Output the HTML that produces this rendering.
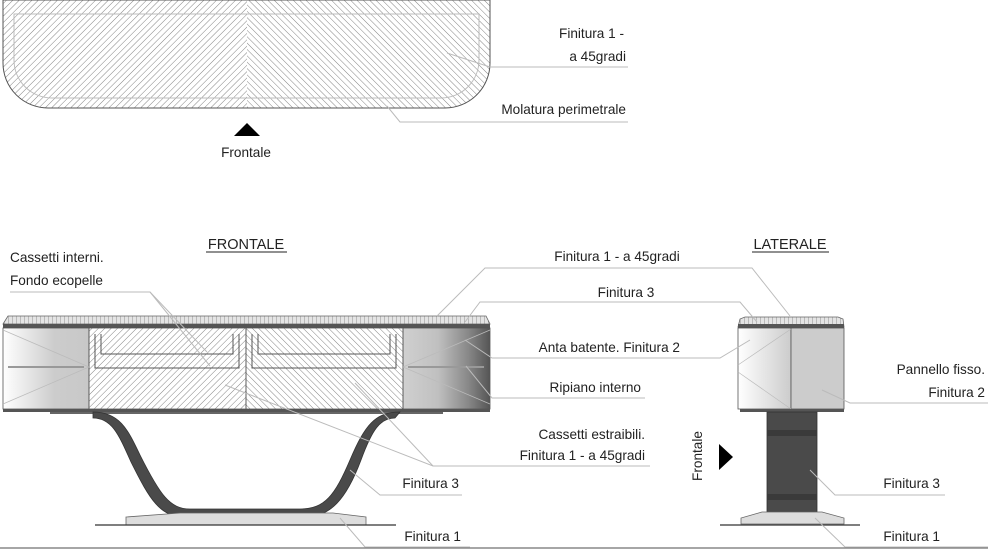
<!DOCTYPE html>
<html><head><meta charset="utf-8"><style>
html,body{margin:0;padding:0;background:#fff}
svg{display:block}
text{font-family:"Liberation Sans",sans-serif;font-size:13.6px;fill:#222}
</style></head><body>
<svg width="988" height="549" viewBox="0 0 988 549" xmlns="http://www.w3.org/2000/svg">
<defs>
<pattern id="hL" width="4.5" height="4.5" patternUnits="userSpaceOnUse" patternTransform="rotate(45)"><line x1="0" y1="0" x2="0" y2="4.5" stroke="#666" stroke-width="0.8"/></pattern>
<pattern id="hR" width="4.5" height="4.5" patternUnits="userSpaceOnUse" patternTransform="rotate(-45)"><line x1="0" y1="0" x2="0" y2="4.5" stroke="#666" stroke-width="0.8"/></pattern>
<pattern id="slab" width="4" height="4" patternUnits="userSpaceOnUse"><rect width="4" height="4" fill="#e4e4e4"/><line x1="0" y1="0" x2="0" y2="4" stroke="#888" stroke-width="0.9"/></pattern>
<linearGradient id="gl" x1="0" x2="1"><stop offset="0" stop-color="#fff"/><stop offset="0.6" stop-color="#ccc"/><stop offset="1" stop-color="#c8c8c8"/></linearGradient>
<linearGradient id="gr" x1="0" x2="1"><stop offset="0" stop-color="#d0d0d0"/><stop offset="0.4" stop-color="#c0c0c0"/><stop offset="0.75" stop-color="#888"/><stop offset="1" stop-color="#555"/></linearGradient>
<linearGradient id="gs" x1="0" x2="1"><stop offset="0" stop-color="#fff"/><stop offset="1" stop-color="#ccc"/></linearGradient>
<clipPath id="topc"><path d="M3 0 H490 V63 A45 45 0 0 1 445 108 H48 A45 45 0 0 1 3 63 Z"/></clipPath>
</defs>

<g clip-path="url(#topc)">
<rect x="0" y="0" width="247" height="110" fill="url(#hL)"/>
<rect x="247" y="0" width="245" height="110" fill="url(#hR)"/>
</g>
<path d="M3 0 H490 V63 A45 45 0 0 1 445 108 H48 A45 45 0 0 1 3 63 Z" fill="none" stroke="#555" stroke-width="1"/>
<path d="M14 14 H479 V60 A38 38 0 0 1 441 98 H52 A38 38 0 0 1 14 60 Z" fill="none" stroke="#bbb" stroke-width="1"/>
<polyline points="447,53 490,67 628,67" fill="none" stroke="#bbb"/>
<polyline points="387,106 400,122 628,122" fill="none" stroke="#bbb"/>
<text x="624" y="38" text-anchor="end">Finitura 1 -</text>
<text x="626" y="61" text-anchor="end">a 45gradi</text>
<text x="626" y="114" text-anchor="end">Molatura perimetrale</text>
<polygon points="247,123 260,136 234,136" fill="#000"/>
<text x="246" y="157" text-anchor="middle">Frontale</text>

<text x="246" y="249" text-anchor="middle" style="font-size:14.5px">FRONTALE</text>
<line x1="206" y1="252" x2="287" y2="252" stroke="#222"/>
<text x="790" y="249" text-anchor="middle" style="font-size:14.5px">LATERALE</text>
<line x1="752" y1="252" x2="829" y2="252" stroke="#222"/>

<path d="M3 324 L8 316 H486 L490 324 Z" fill="url(#slab)" stroke="#666" stroke-width="0.8"/>
<rect x="3" y="324" width="487" height="4" fill="#555"/>
<rect x="3" y="328" width="86" height="81" fill="url(#gl)" stroke="#555" stroke-width="0.8"/>
<rect x="403" y="328" width="87" height="81" fill="url(#gr)" stroke="#555" stroke-width="0.8"/>
<rect x="89" y="328" width="157" height="81" fill="url(#hL)" stroke="#555" stroke-width="0.8"/>
<rect x="246" y="328" width="157" height="81" fill="url(#hR)" stroke="#555" stroke-width="0.8"/>
<polyline points="95,334 95,368 239,368 239,334" fill="none" stroke="#555"/>
<polyline points="101,334 101,354 233,354 233,334" fill="none" stroke="#555"/>
<polyline points="252,334 252,368 396,368 396,334" fill="none" stroke="#555"/>
<polyline points="258,334 258,354 390,354 390,334" fill="none" stroke="#555"/>
<line x1="8" y1="367" x2="84" y2="367" stroke="#999" stroke-width="2"/>
<line x1="408" y1="367" x2="484" y2="367" stroke="#999" stroke-width="2"/>
<line x1="3" y1="330" x2="89" y2="367" stroke="#bbb" stroke-width="0.7"/>
<line x1="3" y1="404" x2="89" y2="367" stroke="#bbb" stroke-width="0.7"/>
<line x1="490" y1="330" x2="403" y2="367" stroke="#bbb" stroke-width="0.7"/>
<line x1="490" y1="404" x2="403" y2="367" stroke="#bbb" stroke-width="0.7"/>
<rect x="3" y="409" width="487" height="3" fill="#555"/>
<rect x="50" y="412" width="393" height="2" fill="#666"/>
<path d="M93 412 C120 412 128 430 140 455 C160 495 170 509 190 509 H300 C325 509 335 495 350 460 C365 425 375 412 400 412 L395 418 C380 418 372 430 361 460 C346 500 330 517 305 517 H185 C160 517 150 500 131 462 C119 435 112 418 93 418 Z" fill="#4a4a4a" stroke="#333" stroke-width="0.8"/>
<path d="M126 525 L126 517 L180 513 H333 L366 517 L366 525 Z" fill="#ddd" stroke="#666" stroke-width="0.8"/>
<line x1="95" y1="525" x2="396" y2="525" stroke="#333" stroke-width="1.3"/>

<path d="M738 327 L740 319 L745 317 H838 L843 319 L844 327 Z" fill="url(#slab)" stroke="#666" stroke-width="0.8"/>
<rect x="738" y="324" width="106" height="4" fill="#555"/>
<rect x="738" y="328" width="53" height="81" fill="url(#gs)" stroke="#555" stroke-width="0.8"/>
<rect x="791" y="328" width="53" height="81" fill="#ccc" stroke="#555" stroke-width="0.8"/>
<line x1="738" y1="365" x2="791" y2="329" stroke="#bbb" stroke-width="0.7"/>
<line x1="738" y1="372" x2="791" y2="409" stroke="#bbb" stroke-width="0.7"/>
<rect x="740" y="409" width="104" height="3" fill="#555"/>
<rect x="767" y="412" width="50" height="100" fill="#4a4a4a" stroke="#333" stroke-width="0.8"/>
<rect x="767" y="430" width="50" height="6" fill="#3a3a3a"/>
<rect x="767" y="494" width="50" height="6" fill="#3a3a3a"/>
<path d="M741 524 L741 518 L762 512 H822 L844 518 L844 524 Z" fill="#ddd" stroke="#666" stroke-width="0.8"/>
<line x1="720" y1="525" x2="860" y2="525" stroke="#333" stroke-width="1.3"/>
<polygon points="719,444 733,457 719,470" fill="#000"/>
<text transform="translate(702,456) rotate(-90)" text-anchor="middle">Frontale</text>

<g fill="none" stroke="#bbb" stroke-width="1">
<polyline points="437,316 485,268 752,268 790,316"/>
<polyline points="465,322 480,302 740,302 757,322"/>
<polyline points="465,340 492,358 720,358 750,340"/>
<polyline points="466,366 492,398 645,398"/>
<polyline points="225,385 433,466 650,466"/>
<line x1="355" y1="383" x2="433" y2="466"/>
<polyline points="350,470 380,495 462,495"/>
<polyline points="340,518 365,547 470,547"/>
<polyline points="10,292 150,292 207,352"/>
<line x1="150" y1="292" x2="210" y2="366"/>
<polyline points="822,390 850,403 988,403"/>
<polyline points="810,470 835,495 945,495"/>
<polyline points="815,518 845,547 988,547"/>
</g>
<line x1="0" y1="548" x2="988" y2="548" stroke="#888" stroke-width="1.5"/>

<text x="617" y="261" text-anchor="middle">Finitura 1 -  a 45gradi</text>
<text x="626" y="297" text-anchor="middle">Finitura 3</text>
<text x="680" y="352" text-anchor="end">Anta batente. Finitura 2</text>
<text x="641" y="392" text-anchor="end">Ripiano interno</text>
<text x="645" y="439" text-anchor="end">Cassetti estraibili.</text>
<text x="645" y="460" text-anchor="end">Finitura 1 - a 45gradi</text>
<text x="459" y="488" text-anchor="end">Finitura 3</text>
<text x="461" y="541" text-anchor="end">Finitura 1</text>
<text x="10" y="262">Cassetti interni.</text>
<text x="10" y="285">Fondo ecopelle</text>
<text x="985" y="374" text-anchor="end">Pannello fisso.</text>
<text x="985" y="397" text-anchor="end">Finitura 2</text>
<text x="940" y="488" text-anchor="end">Finitura 3</text>
<text x="940" y="541" text-anchor="end">Finitura 1</text>
</svg>
</body></html>
